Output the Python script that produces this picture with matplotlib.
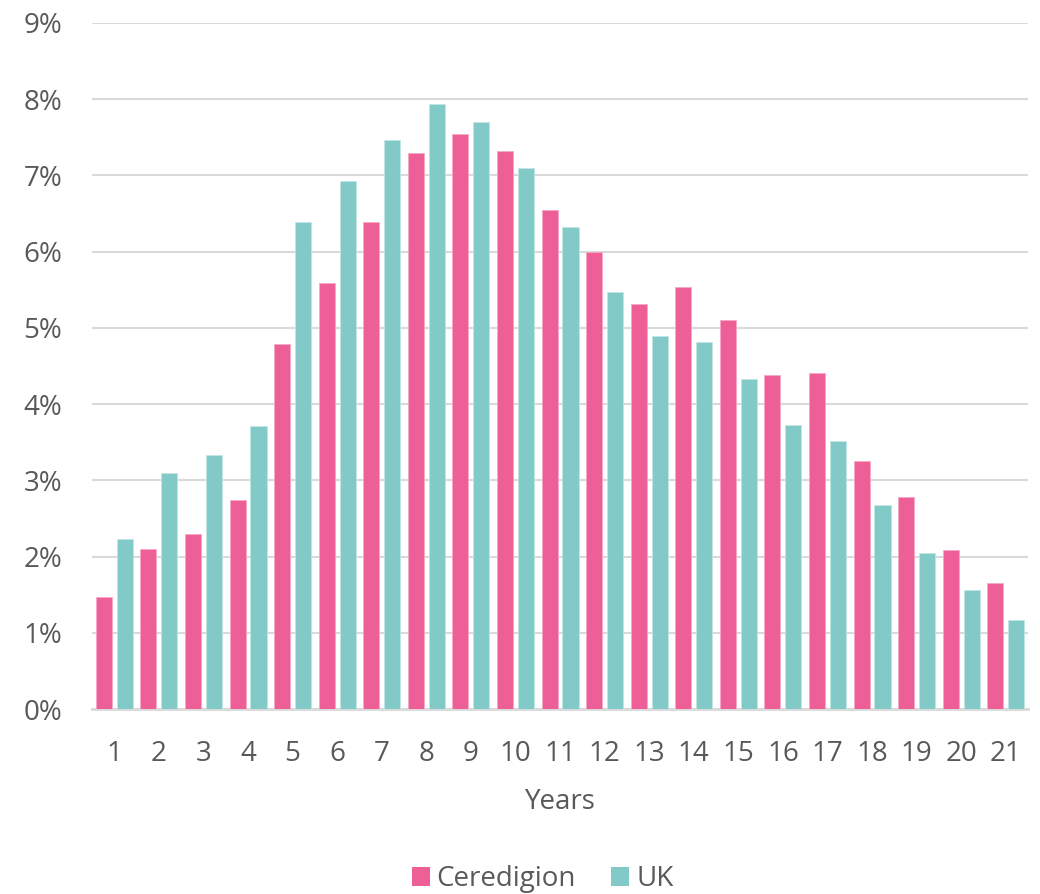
import matplotlib
matplotlib.use("Agg")
import matplotlib.pyplot as plt
from matplotlib.patches import Patch
import numpy as np

plt.rcParams['font.family'] = ['Open Sans', 'DejaVu Sans']

years = [str(i) for i in range(1, 22)]
ceredigion = [1.47, 2.10, 2.29, 2.74, 4.79, 5.59, 6.39, 7.30, 7.55, 7.32, 6.55,
              6.00, 5.31, 5.54, 5.10, 4.38, 4.41, 3.26, 2.78, 2.09, 1.65]
uk = [2.23, 3.10, 3.33, 3.71, 6.39, 6.93, 7.47, 7.94, 7.70, 7.10, 6.32,
      5.47, 4.90, 4.81, 4.33, 3.73, 3.52, 2.68, 2.05, 1.56, 1.17]
y_ticks = list(range(0, 10))
series_names = ["Ceredigion", "UK"]

pink = "#EE5F97"
teal = "#81CAC8"
text_col = "#595959"
grid_col = "#D9D9D9"
fs = 20

fig = plt.figure(figsize=(10.4, 8.94), dpi=100)
ax = fig.add_axes([0.0885, 0.2069, 0.9, 0.7674])

x = np.arange(len(years))
w = 0.36
off = 0.235
ax.bar(x - off, ceredigion, width=w, color=pink, edgecolor="#F6A9C6", linewidth=0.6, zorder=3)
ax.bar(x + off, uk, width=w, color=teal, edgecolor="#C2E6E4", linewidth=0.6, zorder=3)

ax.set_xlim(-0.5, len(years) - 0.5)
ax.set_ylim(0, 9)
ax.set_yticks(y_ticks)
ax.set_yticklabels([f"{v}%" for v in y_ticks])
ax.set_xticks(x)
ax.set_xticklabels(years)

ax.yaxis.grid(True, color=grid_col, linewidth=1.5, zorder=0)
ax.set_axisbelow(True)
for s in ["top", "right", "left"]:
    ax.spines[s].set_visible(False)
ax.spines["bottom"].set_color(grid_col)
ax.spines["bottom"].set_linewidth(2)
ax.tick_params(axis="both", length=0, labelsize=fs, labelcolor=text_col)
ax.tick_params(axis="y", pad=21.5)
ax.tick_params(axis="x", pad=22)

ax.set_xlabel("Years", fontsize=fs, color=text_col, labelpad=15)

handles = [Patch(facecolor=pink, edgecolor="none"), Patch(facecolor=teal, edgecolor="none")]
fig.legend(handles, series_names, loc="center", bbox_to_anchor=(542.5 / 1040, 1 - 879 / 894),
           ncol=2, frameon=False, fontsize=fs, labelcolor=text_col,
           handlelength=0.65, handleheight=0.65, handletextpad=0.25, columnspacing=1.26,
           borderpad=0, borderaxespad=0)

fig.savefig("out.png", dpi=100)
